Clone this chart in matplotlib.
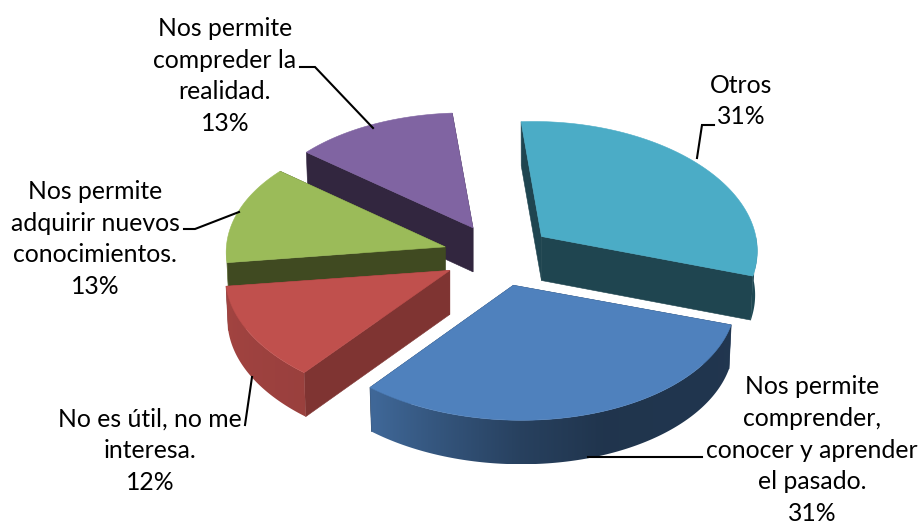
import numpy as np
import matplotlib
matplotlib.use('Agg')
import matplotlib.pyplot as plt
from matplotlib.colors import to_rgb
from matplotlib.patches import Polygon

# values in drawing order round the pie, clockwise from the right
labels = ['Nos permite\ncomprender,\nconocer y aprender\nel pasado.\n31%',
          'No es útil, no me\ninteresa.\n12%',
          'Nos permite\nadquirir nuevos\nconocimientos.\n13%',
          'Nos permite\ncompreder la\nrealidad.\n13%',
          'Otros\n31%']
values = [31, 12, 13, 13, 31]
colors = ['#4F81BD', '#C0504D', '#9BBB59', '#8064A2', '#4BACC6']
radial_colors = ['#1F3552', '#7F3432', '#404A21', '#32263F', '#1F4550']
x_scale = [1, 1.015, 0.99, 1, 0.97]

label_xy = [(812, 450), (150, 451), (95, 239), (225, 76), (741, 101)]
leaders = [[(702, 457), (588, 457)],
           [(245, 425), (252, 377)],
           [(184, 229), (195, 229), (239, 212)],
           [(300, 67), (315, 67), (373, 128)],
           [(714, 125), (702, 125), (697, 158)]]

# pie geometry, in pixels of the 920x524 picture
cx, cy = 498, 255.5
rx, ry = 221, 125
persp = 0.08
skew = 8
depth = 44
expl_x, expl_y = 55, 31
start = 18


def project(t, ox, oy, drop=0, sx=1):
    u, v = np.cos(t), np.sin(t)
    w = 1 + persp * v
    s = 0.99 if drop else 1
    return ox + s * sx * rx * u * w + skew * v, oy + ry * v * w + drop


def wall_shade(deg):
    return np.interp(deg, [0, 17, 70, 90, 128, 175, 180],
                     [.55, .42, .41, .5, .8, .85, .85])


fig = plt.figure(figsize=(9.2, 5.24), dpi=100)
ax = fig.add_axes([0, 0, 1, 1])
ax.axis('off')

# slice angles from the values
total = sum(values)
ends = start + np.cumsum(values) / total * 360
begins = np.r_[start, ends[:-1]]

# back slices first, imshow would go under the patches without zorder
z = 1
for i in [3, 4, 2, 1, 0]:
    a0, a1 = np.radians(begins[i]), np.radians(ends[i])
    sx = x_scale[i]
    mid = (a0 + a1) / 2
    ox = cx + expl_x * np.cos(mid)
    oy = cy + expl_y * np.sin(mid)
    ts = np.linspace(a0, a1, 120)
    col = np.array(to_rgb(colors[i]))

    # the two cut faces
    for t in (a0, a1):
        xe, ye = project(t, ox, oy, sx=sx)
        xb, yb = project(t, ox, oy, depth, sx)
        ax.fill([ox, xe, xb, ox], [oy, ye, yb, oy + depth],
                color=radial_colors[i], lw=0.4, zorder=z)
    z += 1

    # outer wall, only the part that faces the viewer
    deg = np.degrees(ts) % 360
    front = ts[deg <= 180]
    if i == 4:
        front = ts[(deg <= 20)]
    if len(front) > 1:
        x1, y1 = project(front, ox, oy, sx=sx)
        x2, y2 = project(front[::-1], ox, oy, depth, sx)
        xp = np.r_[x1, x2]
        yp = np.r_[y1, y2]
        cols = np.linspace(xp.min(), xp.max(), 200)
        order = np.argsort(x1)
        shade = np.interp(cols, x1[order], wall_shade(np.degrees(front[order]) % 360))
        img = (shade[:, None] * col[None, :])[None, :, :]
        im = ax.imshow(img, extent=(xp.min(), xp.max(), yp.max(), yp.min()),
                       aspect='auto', interpolation='bilinear', zorder=z)
        im.set_clip_path(Polygon(np.c_[xp, yp], transform=ax.transData))
    z += 1

    # top face
    xs, ys = project(ts, ox, oy, sx=sx)
    ax.fill(np.r_[ox, xs], np.r_[oy, ys], color=colors[i], lw=0.4, zorder=z)
    z += 1

for pts in leaders:
    ax.plot(*zip(*pts), color='black', lw=1.5, solid_joinstyle='miter', zorder=z)

for lab, (x, y) in zip(labels, label_xy):
    ax.text(x, y, lab, ha='center', va='center', family='Lato', fontsize=17.8,
            linespacing=1.47, color='black', zorder=z)

ax.set_xlim(0, 920)
ax.set_ylim(524, 0)
fig.savefig('out.png', dpi=100)
